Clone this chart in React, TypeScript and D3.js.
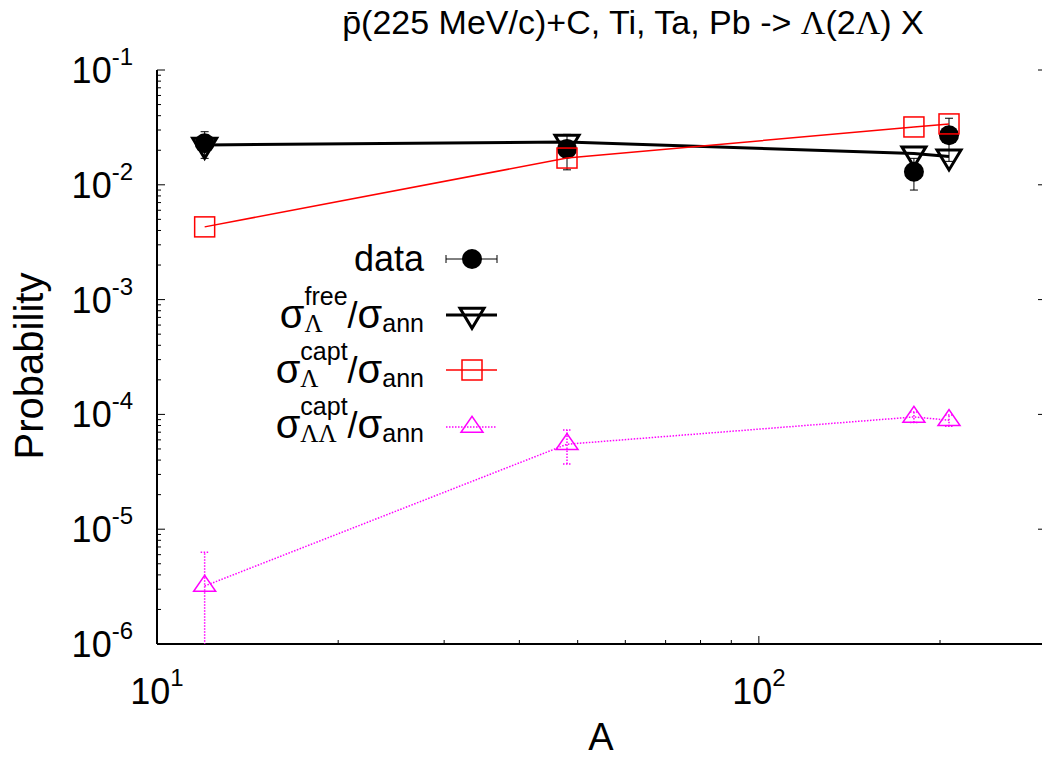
import React from "react";
import * as d3 from "d3";

// Target nuclei mass numbers (C, Ti, Ta, Pb)
const massNumbers = [12, 48, 181, 207];

// Measured Λ production probability with errors
const dataValues = [0.023, 0.0205, 0.013, 0.027];
const dataErrors = [0.006, 0.007, 0.004, 0.011];

// Model: free Λ production
const freeValues = [0.0222, 0.0236, 0.0187, 0.0176];

// Model: Λ capture
const captValues = [0.0043, 0.0171, 0.0319, 0.0339];

// Model: ΛΛ capture with statistical errors
const llValues = [3.2e-6, 5.5e-5, 9.5e-5, 8.9e-5];
const llErrors = [3.1e-6, 1.8e-5, 1.0e-5, 1.0e-5];

const yTickExponents = [-1, -2, -3, -4, -5, -6];
const xTickExponents = [1, 2];

const W = 1042;
const H = 759;
const left = 157;
const right = 1046;
const top = 70;
const bottom = 644;

const SANS = "'Liberation Sans', Arial, Helvetica, sans-serif";
const SERIF = "'Liberation Serif', 'Times New Roman', serif";

let measureCtx: CanvasRenderingContext2D | null = null;
function textWidth(s: string, size: number, family: string) {
  if (!measureCtx) measureCtx = document.createElement("canvas").getContext("2d");
  if (!measureCtx) return s.length * size * 0.55;
  measureCtx.font = `${size}px ${family}`;
  return measureCtx.measureText(s).width;
}

type Part = { t: string; family?: string };

// Legend label of the form  σ^{sup}_{sub} / σ_ann , right aligned at xr
function SigmaLabel({ xr, y, sup, sub }: { xr: number; y: number; sup: string; sub: Part[] }) {
  const big = 36;
  const sigma = 40;
  const small = 25;
  const wSigma = textWidth("σ", sigma, SANS);
  const wSup = textWidth(sup, small, SANS);
  const wSub = sub.reduce((a, p) => a + textWidth(p.t, small, p.family || SANS), 0);
  const wSlash = textWidth("/", big, SANS);
  const wSigma2 = textWidth("σ", sigma, SANS);
  const wAnn = textWidth("ann", small, SANS);
  const total = wSigma + Math.max(wSup, wSub) + wSlash + wSigma2 + wAnn;
  const x0 = xr - total;
  const x1 = x0 + wSigma;
  const x2 = x1 + Math.max(wSup, wSub);
  const x3 = x2 + wSlash;
  const x4 = x3 + wSigma2;
  return (
    <g fill="#000">
      <text x={x0} y={y} fontSize={sigma} fontFamily={SANS}>σ</text>
      <text x={x1} y={y - 23} fontSize={small} fontFamily={SANS}>{sup}</text>
      <text x={x1} y={y + 4} fontSize={small}>
        {sub.map((p, i) => (
          <tspan key={i} fontFamily={p.family || SANS}>{p.t}</tspan>
        ))}
      </text>
      <text x={x2} y={y} fontSize={big} fontFamily={SANS}>/</text>
      <text x={x3} y={y} fontSize={sigma} fontFamily={SANS}>σ</text>
      <text x={x4} y={y + 4} fontSize={small} fontFamily={SANS}>ann</text>
    </g>
  );
}

function invTriangle(x: number, y: number) {
  return `M${x - 12},${y - 6.7}L${x + 12},${y - 6.7}L${x},${y + 13.3}Z`;
}
function upTriangle(x: number, y: number) {
  return `M${x - 11},${y + 5.3}L${x + 11},${y + 5.3}L${x},${y - 10.7}Z`;
}

export default function App() {
  const x = d3.scaleLog().domain([10, 300]).range([left, right]);
  const y = d3.scaleLog().domain([1e-6, 1e-1]).range([bottom, top]);

  const line = d3
    .line<[number, number]>()
    .x((d) => x(d[0]))
    .y((d) => y(d[1]));

  const pts = (vals: number[]) => massNumbers.map((a, i) => [a, vals[i]] as [number, number]);

  // minor ticks
  const yMinor: number[] = [];
  for (let e = -6; e < -1; e++) for (let m = 2; m <= 9; m++) yMinor.push(m * Math.pow(10, e));
  const xMinor: number[] = [];
  for (let m = 2; m <= 9; m++) xMinor.push(m * 10);
  xMinor.push(200, 300);

  const legX0 = 446;
  const legX1 = 497;
  const legXc = 472;
  const legY = [259, 315, 370, 427];
  const legTextR = 424;

  return (
    <svg
      width={W}
      height={H}
      style={{ position: "absolute", left: 0, top: 0, background: "#fff" }}
      fontFamily={SANS}
    >
      <defs>
        <clipPath id="plotArea">
          <rect x={left} y={top} width={right - left} height={bottom - top} />
        </clipPath>
      </defs>
      <rect width={W} height={H} fill="#fff" />

      {/* title */}
      <text x={633} y={34} textAnchor="middle" fontSize={34} fill="#000">
        <tspan>p&#x0304;(225 MeV/c)+C, Ti, Ta, Pb -&gt; </tspan>
        <tspan fontFamily={SERIF}>Λ</tspan>
        <tspan>(2</tspan>
        <tspan fontFamily={SERIF}>Λ</tspan>
        <tspan>) X</tspan>
      </text>

      {/* axes */}
      <g stroke="#000" fill="none">
        <line x1={left} y1={top} x2={left} y2={bottom} strokeWidth={2} />
        <line x1={left} y1={bottom} x2={right} y2={bottom} strokeWidth={2} />
        {yTickExponents.map((e) => (
          <g key={"ym" + e}>
            <line x1={left} x2={left + 8} y1={y(Math.pow(10, e))} y2={y(Math.pow(10, e))} strokeWidth={1} />
            <line x1={right} x2={right - 8} y1={y(Math.pow(10, e))} y2={y(Math.pow(10, e))} strokeWidth={1} />
          </g>
        ))}
        {yMinor.map((v) => (
          <g key={"yn" + v}>
            <line x1={left} x2={left + 4} y1={y(v)} y2={y(v)} strokeWidth={1} />
            <line x1={right} x2={right - 4} y1={y(v)} y2={y(v)} strokeWidth={1} />
          </g>
        ))}
        {xTickExponents.map((e) => (
          <line key={"xm" + e} x1={x(Math.pow(10, e))} x2={x(Math.pow(10, e))} y1={bottom} y2={bottom - 8} strokeWidth={1} />
        ))}
        {xMinor.map((v) => (
          <line key={"xn" + v} x1={x(v)} x2={x(v)} y1={bottom} y2={bottom - 4} strokeWidth={1} />
        ))}
      </g>

      {/* y tick labels */}
      {yTickExponents.map((e) => (
        <text key={"yl" + e} x={133} y={y(Math.pow(10, e)) + 13} textAnchor="end" fontSize={36} fill="#000">
          <tspan>10</tspan>
          <tspan dy={-18} fontSize={24}>{String(e)}</tspan>
        </text>
      ))}

      {/* x tick labels */}
      {xTickExponents.map((e) => (
        <text key={"xl" + e} x={x(Math.pow(10, e))} y={704} textAnchor="middle" fontSize={36} fill="#000">
          <tspan>10</tspan>
          <tspan dy={-18} fontSize={24}>{String(e)}</tspan>
        </text>
      ))}

      {/* axis titles */}
      <text x={601} y={750} textAnchor="middle" fontSize={38} fill="#000">A</text>
      <text transform={`translate(43,366) rotate(-90)`} textAnchor="middle" fontSize={40} fill="#000">
        Probability
      </text>

      <g clipPath="url(#plotArea)">
        {/* data: error bars and circles */}
        <g stroke="#000" strokeWidth={1}>
          {massNumbers.map((a, i) => {
            const cx = x(a);
            const y1 = y(dataValues[i] + dataErrors[i]);
            const y0 = y(Math.max(dataValues[i] - dataErrors[i], 1e-9));
            return (
              <g key={"de" + i}>
                <line x1={cx} x2={cx} y1={y0} y2={y1} />
                <line x1={cx - 4} x2={cx + 4} y1={y1} y2={y1} />
                <line x1={cx - 4} x2={cx + 4} y1={y0} y2={y0} />
              </g>
            );
          })}
        </g>
        {massNumbers.map((a, i) => (
          <circle key={"dc" + i} cx={x(a)} cy={y(dataValues[i])} r={10} fill="#000" />
        ))}

        {/* free Λ */}
        <path d={line(pts(freeValues)) || ""} fill="none" stroke="#000" strokeWidth={3} />
        {massNumbers.map((a, i) => (
          <path key={"ft" + i} d={invTriangle(x(a), y(freeValues[i]))} fill="none" stroke="#000" strokeWidth={3} strokeLinejoin="miter" />
        ))}

        {/* Λ capture */}
        <path d={line(pts(captValues)) || ""} fill="none" stroke="#ff0000" strokeWidth={1.5} />
        {massNumbers.map((a, i) => (
          <rect key={"cs" + i} x={x(a) - 10} y={y(captValues[i]) - 10} width={20} height={20} fill="none" stroke="#ff0000" strokeWidth={1.5} />
        ))}

        {/* ΛΛ capture */}
        <path d={line(pts(llValues)) || ""} fill="none" stroke="#ff00ff" strokeWidth={1.5} strokeDasharray="1.5,1.5" />
        <g stroke="#ff00ff" strokeWidth={1.5} strokeDasharray="1.5,1.5">
          {massNumbers.map((a, i) => {
            const cx = x(a);
            const y1 = y(llValues[i] + llErrors[i]);
            const y0 = y(Math.max(llValues[i] - llErrors[i], 1e-9));
            return (
              <g key={"le" + i}>
                <line x1={cx} x2={cx} y1={y0} y2={y1} />
                <line x1={cx - 4} x2={cx + 4} y1={y1} y2={y1} />
                <line x1={cx - 4} x2={cx + 4} y1={y0} y2={y0} />
              </g>
            );
          })}
        </g>
        {massNumbers.map((a, i) => (
          <path key={"lt" + i} d={upTriangle(x(a), y(llValues[i]))} fill="none" stroke="#ff00ff" strokeWidth={1.5} />
        ))}
      </g>

      {/* legend */}
      <text x={legTextR} y={legY[0] + 12} textAnchor="end" fontSize={36} fill="#000">data</text>
      <g stroke="#000" strokeWidth={1}>
        <line x1={legX0} x2={legX1} y1={legY[0]} y2={legY[0]} />
        <line x1={legX0} x2={legX0} y1={legY[0] - 4} y2={legY[0] + 4} />
        <line x1={legX1} x2={legX1} y1={legY[0] - 4} y2={legY[0] + 4} />
      </g>
      <circle cx={legXc} cy={legY[0]} r={10} fill="#000" />

      <SigmaLabel xr={legTextR} y={legY[1] + 13} sup="free" sub={[{ t: "Λ", family: SERIF }]} />
      <line x1={legX0} x2={legX1} y1={legY[1]} y2={legY[1]} stroke="#000" strokeWidth={3} />
      <path d={invTriangle(legXc, legY[1])} fill="none" stroke="#000" strokeWidth={3} />

      <SigmaLabel xr={legTextR} y={legY[2] + 13} sup="capt" sub={[{ t: "Λ", family: SERIF }]} />
      <line x1={legX0} x2={legX1} y1={legY[2]} y2={legY[2]} stroke="#ff0000" strokeWidth={1.5} />
      <rect x={legXc - 10} y={legY[2] - 10} width={20} height={20} fill="none" stroke="#ff0000" strokeWidth={1.5} />

      <SigmaLabel xr={legTextR} y={legY[3] + 11} sup="capt" sub={[{ t: "ΛΛ", family: SERIF }]} />
      <line x1={legX0} x2={legX1} y1={legY[3]} y2={legY[3]} stroke="#ff00ff" strokeWidth={1.5} strokeDasharray="1.5,1.5" />
      <path d={upTriangle(legXc, legY[3])} fill="none" stroke="#ff00ff" strokeWidth={1.5} />
    </svg>
  );
}
